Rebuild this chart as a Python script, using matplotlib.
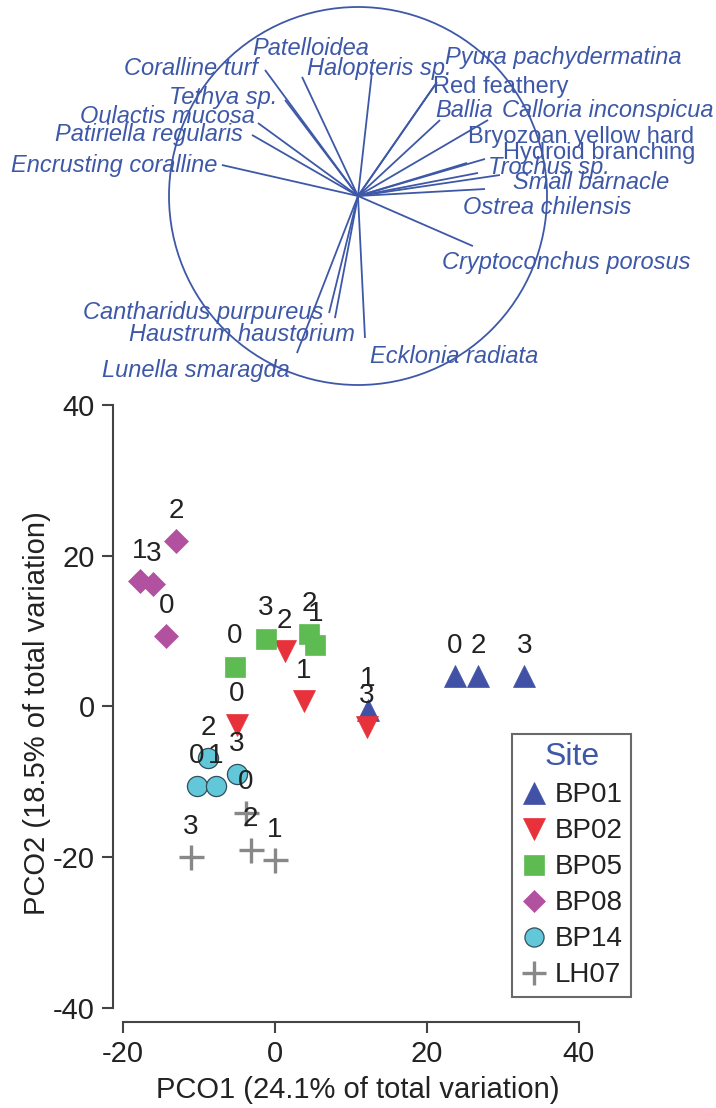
import matplotlib
matplotlib.use("Agg")
import matplotlib.pyplot as plt
from matplotlib.lines import Line2D
from matplotlib.patches import Circle

plt.rcParams['font.family'] = ['Liberation Sans', 'DejaVu Sans']
plt.rcParams['axes.unicode_minus'] = False

# ---------------- data ----------------
sample_labels = ['0', '1', '2', '3']

bp01_x = [23.7, 12.2, 26.7, 32.8]
bp01_y = [4.0, -0.4, 4.0, 4.0]
bp02_x = [-5.0, 3.8, 1.3, 12.1]
bp02_y = [-2.4, 0.7, 7.3, -2.7]
bp05_x = [-5.3, 5.3, 4.5, -1.2]
bp05_y = [5.3, 8.2, 9.6, 9.0]
bp08_x = [-14.3, -17.8, -13.0, -16.0]
bp08_y = [9.3, 16.6, 21.9, 16.2]
bp14_x = [-10.3, -7.8, -8.8, -5.0]
bp14_y = [-10.6, -10.6, -6.9, -9.0]
lh07_x = [-3.8, 0.0, -3.2, -11.1]
lh07_y = [-14.1, -20.4, -19.0, -20.0]

site_names = ['BP01', 'BP02', 'BP05', 'BP08', 'BP14', 'LH07']

# species vectors (correlations with PCO1 / PCO2)
species = ['Encrusting coralline', 'Patiriella regularis', 'Oulactis mucosa',
           'Tethya sp.', 'Coralline turf', 'Patelloidea', 'Halopteris sp.',
           'Pyura pachydermatina', 'Red feathery', 'Ballia',
           'Calloria inconspicua', 'Bryozoan yellow hard', 'Hydroid branching',
           'Trochus sp.', 'Small barnacle', 'Ostrea chilensis',
           'Cryptoconchus porosus', 'Cantharidus purpureus',
           'Haustrum haustorium', 'Lunella smaragda', 'Ecklonia radiata']
vec_pco1 = [-0.720, -0.561, -0.529, -0.386, -0.492, -0.296, 0.074,
            0.418, 0.407, 0.434, 0.688, 0.577, 0.672, 0.635, 0.751, 0.672,
            0.608, -0.153, -0.122, -0.323, 0.037]
vec_pco2 = [0.164, 0.323, 0.386, 0.508, 0.667, 0.630, 0.656,
            0.603, 0.587, 0.402, 0.402, 0.175, 0.196, 0.122, 0.111, 0.037,
            -0.265, -0.619, -0.646, -0.831, -0.751]

# ---------------- styles / layout ----------------
site_styles = {
    'BP01': dict(marker='^', color='#4151a6', ms=16),
    'BP02': dict(marker='v', color='#e8323b', ms=16),
    'BP05': dict(marker='s', color='#5dbb52', ms=14.5),
    'BP08': dict(marker='D', color='#b2519f', ms=12),
    'BP14': dict(marker='o', color='#62c7d9', ms=14.5),
    'LH07': dict(marker='+', color='#888888', ms=18),
}
vec_color = '#3e58a8'
upright = {'Red feathery', 'Bryozoan yellow hard', 'Hydroid branching'}

# text anchor for each species label: (x, y, horizontal alignment)
label_anchor = {
    'Encrusting coralline': (-0.746, 0.164, 'right'),
    'Patiriella regularis': (-0.608, 0.323, 'right'),
    'Oulactis mucosa': (-0.545, 0.418, 'right'),
    'Tethya sp.': (-0.429, 0.519, 'right'),
    'Coralline turf': (-0.529, 0.677, 'right'),
    'Patelloidea': (-0.561, 0.783, 'left'),
    'Halopteris sp.': (-0.270, 0.677, 'left'),
    'Pyura pachydermatina': (0.460, 0.735, 'left'),
    'Red feathery': (0.397, 0.577, 'left'),
    'Ballia': (0.407, 0.450, 'left'),
    'Calloria inconspicua': (0.762, 0.450, 'left'),
    'Bryozoan yellow hard': (0.582, 0.312, 'left'),
    'Hydroid branching': (0.767, 0.228, 'left'),
    'Trochus sp.': (0.688, 0.153, 'left'),
    'Small barnacle': (0.820, 0.069, 'left'),
    'Ostrea chilensis': (0.556, -0.063, 'left'),
    'Cryptoconchus porosus': (0.444, -0.354, 'left'),
    'Cantharidus purpureus': (-0.185, -0.614, 'right'),
    'Haustrum haustorium': (-0.016, -0.735, 'right'),
    'Lunella smaragda': (-0.360, -0.921, 'right'),
    'Ecklonia radiata': (0.063, -0.847, 'left'),
}

W, H = 716, 1108
fig = plt.figure(figsize=(W / 100, H / 100), dpi=100)

# ---------------- vector (correlation circle) panel ----------------
vax = fig.add_axes([0, 1 - 395 / H, 1, 395 / H])
vax.set_xlim(-358 / 189, (W - 358) / 189)
vax.set_ylim(-199 / 189, 196 / 189)
vax.axis('off')
vax.add_patch(Circle((0, 0), 1.0, fill=False, ec=vec_color, lw=1.3))
for name, vx, vy in zip(species, vec_pco1, vec_pco2):
    vax.plot([0, vx], [0, vy], color=vec_color, lw=1.3, solid_capstyle='butt')
    tx, ty, ha = label_anchor[name]
    vax.text(tx, ty, name, ha=ha, va='center', fontsize=17, color=vec_color,
             style='normal' if name in upright else 'italic')

# ---------------- PCO scatter panel ----------------
ax = fig.add_axes([113 / W, 86 / H, 504 / W, 617 / H])
ax.set_xlim(-21.3, 45)
ax.set_ylim(-41.86, 40)

site_data = {
    'BP01': (bp01_x, bp01_y), 'BP02': (bp02_x, bp02_y),
    'BP05': (bp05_x, bp05_y), 'BP08': (bp08_x, bp08_y),
    'BP14': (bp14_x, bp14_y), 'LH07': (lh07_x, lh07_y),
}
handles = []
for site in site_names:
    xs, ys = site_data[site]
    st = site_styles[site]
    if st['marker'] == '+':
        kw = dict(mew=2.4, mec=st['color'])
    elif st['marker'] == 'o':
        kw = dict(mfc=st['color'], mec='#2f4f5a', mew=0.9)
    else:
        kw = dict(mfc=st['color'], mec=st['color'], mew=0.5)
    ax.plot(xs, ys, ls='none', marker=st['marker'], ms=st['ms'], **kw)
    handles.append(Line2D([], [], ls='none', marker=st['marker'],
                          ms=st['ms'] * 0.95, label=site, **kw))

for site in site_names:
    xs, ys = site_data[site]
    for x, y, lab in zip(xs, ys, sample_labels):
        ax.annotate(lab, (x, y), xytext=(0, 22), textcoords='offset points',
                    ha='center', va='center', fontsize=20, color='#222222')

for s in ['top', 'right']:
    ax.spines[s].set_visible(False)
for s in ['left', 'bottom']:
    ax.spines[s].set_color('#444444')
    ax.spines[s].set_linewidth(1.5)
ax.spines['left'].set_bounds(-40, 40)
ax.spines['bottom'].set_bounds(-20, 40)
ax.set_xticks([-20, 0, 20, 40])
ax.set_yticks([-40, -20, 0, 20, 40])
ax.tick_params(axis='both', length=8, width=1.5, color='#444444',
               labelsize=21, labelcolor='#222222', pad=5)

ax.set_xlabel('PCO1 (24.1% of total variation)', fontsize=21, color='#222222')
ax.set_ylabel('PCO2 (18.5% of total variation)', fontsize=21, color='#222222')
ax.xaxis.set_label_coords(0.5 - 7 / 504, -68 / 617)
ax.xaxis.label.set_va('center')
ax.yaxis.set_label_coords(-76 / 504, 0.5)
ax.yaxis.label.set_va('center')

leg = ax.legend(handles=handles, loc='upper left',
                bbox_to_anchor=(512 / W, 1 - 734 / H),
                bbox_transform=fig.transFigure, borderaxespad=0,
                title='Site', fontsize=20, title_fontsize=23,
                frameon=True, fancybox=False, edgecolor='#444444',
                labelspacing=0.36, handletextpad=0.25, handlelength=1.0,
                borderpad=0.3)
leg.get_frame().set_linewidth(1.5)
leg.get_title().set_color(vec_color)
for t in leg.get_texts():
    t.set_color('#222222')

fig.savefig('out.png', dpi=100)
